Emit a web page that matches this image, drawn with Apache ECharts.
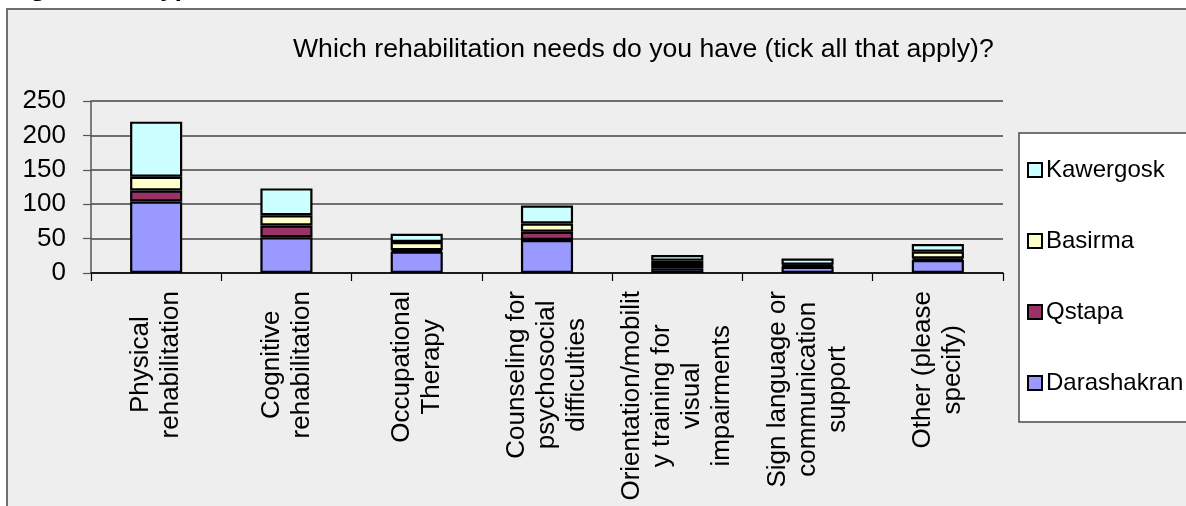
<!DOCTYPE html>
<html>
<head>
<meta charset="utf-8">
<script src="https://cdn.jsdelivr.net/npm/echarts@6/dist/echarts.min.js"></script>
<style>
  html, body { margin: 0; padding: 0; background: #ffffff; overflow: hidden; }
  #panel { position: absolute; left: 6px; top: 8px; width: 1210px; height: 520px;
           background: #eeeeee; border: 2px solid #6e6e6e; }
  #chart { position: absolute; left: 0; top: 0; width: 1186px; height: 506px; }
</style>
</head>
<body>
<div id="panel"></div>
<div id="chart"></div>
<script>
// Rehabilitation needs by location (respondents could tick several)
const categories = [
  'Physical\nrehabilitation',
  'Cognitive\nrehabilitation',
  'Occupational\nTherapy',
  'Counseling for\npsychosocial\ndifficulties',
  'Orientation/mobilit\ny training for\nvisual\nimpairments',
  'Sign language or\ncommunication\nsupport',
  'Other (please\nspecify)'
];
const darashakran = [104, 52, 31, 48, 7, 9, 19];
const qstapa      = [16, 17, 2, 12, 6, 1, 2];
const basirma     = [20, 15, 12, 12, 5, 2, 10];
const kawergosk   = [80, 39, 12, 26, 8, 9, 11];
const yTicks = { min: 0, max: 250, interval: 50 };

const FONT = '"Liberation Sans", Arial, sans-serif';

function bar(name, data, color) {
  return {
    name: name,
    type: 'bar',
    stack: 'total',
    barWidth: '40%',
    data: data,
    itemStyle: { color: color, borderColor: '#000000', borderWidth: 2.2 }
  };
}

const chart = echarts.init(document.getElementById('chart'), null, { renderer: 'canvas' });
chart.setOption({
  backgroundColor: 'transparent',
  animation: false,
  textStyle: { fontFamily: FONT },
  title: {
    text: 'Which rehabilitation needs do you have (tick all that apply)?',
    left: 288,
    top: 31,
    textStyle: { fontFamily: FONT, fontSize: 26.6, fontWeight: 'normal', color: '#000000' }
  },
  graphic: [{
    type: 'text',
    x: 9,
    y: -24,
    style: {
      text: 'Figure 12:  Type of rehabilitation needs',
      font: 'italic bold 26px "Liberation Sans", Arial, sans-serif',
      fill: '#000000'
    }
  }],
  legend: {
    orient: 'vertical',
    left: 1019,
    top: 133,
    data: ['Kawergosk', 'Basirma', 'Qstapa', 'Darashakran'],
    icon: 'rect',
    itemWidth: 14,
    itemHeight: 14,
    itemGap: 45,
    padding: [24, 40, 26, 8],
    backgroundColor: '#ffffff',
    borderColor: '#4a4a4a',
    borderWidth: 1.5,
    itemStyle: { borderColor: '#000000', borderWidth: 2 },
    textStyle: { fontFamily: FONT, fontSize: 24, color: '#000000', lineHeight: 26, padding: [0, 0, 0, -1] }
  },
  grid: { left: 91, right: 183, top: 101, bottom: 233, containLabel: false },
  xAxis: {
    type: 'category',
    data: categories,
    boundaryGap: true,
    axisLine: { show: true, lineStyle: { color: '#000000', width: 1.5 } },
    axisTick: { show: true, length: 8, lineStyle: { color: '#000000', width: 1.2 } },
    axisLabel: {
      interval: 0,
      rotate: 90,
      margin: 18,
      color: '#000000',
      formatter: function (v) {
        return v.split('\n').map(function (s) { return '{c|' + s + '}'; }).join('\n');
      },
      rich: {
        c: { align: 'center', fontFamily: FONT, fontSize: 26, lineHeight: 30, color: '#000000' }
      }
    },
    splitLine: { show: false }
  },
  yAxis: {
    type: 'value',
    min: yTicks.min,
    max: yTicks.max,
    interval: yTicks.interval,
    axisLine: { show: true, lineStyle: { color: '#555555', width: 1.5 } },
    axisTick: { show: true, length: 8, lineStyle: { color: '#555555', width: 1.2 } },
    axisLabel: { margin: 25, fontFamily: FONT, fontSize: 26, color: '#000000' },
    splitLine: { show: true, lineStyle: { color: '#6e6e6e', width: 2 } }
  },
  series: [
    bar('Darashakran', darashakran, '#9999ff'),
    bar('Qstapa', qstapa, '#993366'),
    bar('Basirma', basirma, '#ffffcc'),
    bar('Kawergosk', kawergosk, '#ccffff')
  ]
});
</script>
</body>
</html>
